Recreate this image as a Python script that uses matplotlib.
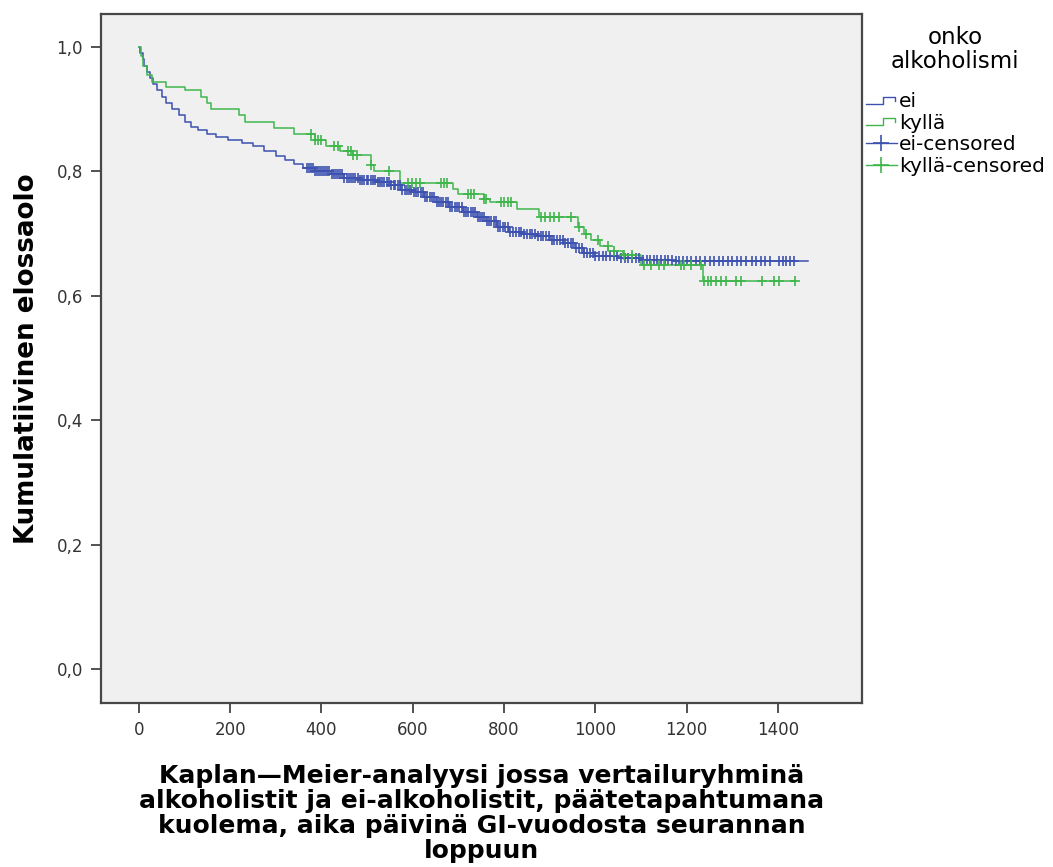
import numpy as np
import matplotlib
matplotlib.use('Agg')
import matplotlib.pyplot as plt
from matplotlib.lines import Line2D
from matplotlib.legend_handler import HandlerBase

# Kaplan-Meier step values (time in days, survival after the step)
ei_times = [0, 3, 8, 12, 18, 25, 32, 40, 50, 60, 72, 88, 100, 115, 130, 150, 170, 195,
            225, 250, 275, 300, 320, 340, 360, 385, 420, 450, 480, 520, 550, 575, 600,
            625, 650, 680, 710, 740, 760, 785, 810, 840, 870, 900, 930, 955, 975, 1000,
            1050, 1100, 1170]
ei_surv = [1.0, 0.99, 0.98, 0.97, 0.96, 0.95, 0.94, 0.93, 0.92, 0.91, 0.90, 0.89, 0.88,
           0.872, 0.866, 0.86, 0.855, 0.85, 0.845, 0.84, 0.832, 0.825, 0.818, 0.812,
           0.806, 0.80, 0.795, 0.79, 0.786, 0.783, 0.778, 0.77, 0.766, 0.758, 0.75,
           0.742, 0.735, 0.727, 0.72, 0.71, 0.703, 0.699, 0.696, 0.69, 0.684, 0.676,
           0.668, 0.664, 0.661, 0.658, 0.656]
ei_end = 1465

kylla_times = [0, 5, 10, 18, 28, 60, 100, 135, 150, 158, 220, 232, 295, 340, 385, 410,
               440, 470, 508, 515, 572, 688, 700, 755, 770, 828, 876, 962, 975, 990,
               1010, 1028, 1060, 1100, 1235]
kylla_surv = [1.0, 0.985, 0.97, 0.955, 0.944, 0.936, 0.93, 0.92, 0.91, 0.90, 0.89, 0.88,
              0.87, 0.86, 0.85, 0.84, 0.832, 0.826, 0.81, 0.80, 0.782, 0.772, 0.763,
              0.755, 0.75, 0.74, 0.727, 0.711, 0.70, 0.69, 0.68, 0.672, 0.665, 0.65,
              0.623]
kylla_end = 1440

# censored observations
ei_cens = [368, 372, 376, 381, 386, 390, 394, 399, 403, 408, 413, 417, 422, 427, 431,
           436, 441, 446, 450, 455, 460, 465, 470, 474, 479, 484, 489, 494, 499, 503,
           508, 513, 518, 523, 528, 533, 538, 543, 548, 553, 558, 562, 567, 572, 577,
           582, 587, 592, 597, 602, 607, 612, 617, 622, 627, 632, 637, 642, 647, 652,
           657, 662, 667, 672, 677, 682, 687, 692, 697, 702, 707, 712, 717, 722, 727,
           732, 737, 742, 747, 752, 757, 762, 767, 772, 777, 782, 787, 792, 797, 802,
           808, 814, 820, 826, 832, 838, 844, 850, 856, 862, 868, 874, 880, 886, 892,
           898, 904, 910, 916, 922, 928, 934, 940, 946, 952, 958, 964, 970, 976, 982,
           988, 994, 1000, 1008, 1016, 1024, 1032, 1040, 1048, 1056, 1064, 1072, 1080,
           1088, 1096, 1104, 1112, 1120, 1128, 1136, 1144, 1152, 1160, 1168, 1176, 1184,
           1192, 1200, 1210, 1220, 1230, 1240, 1250, 1260, 1270, 1280, 1290, 1300, 1310,
           1320, 1330, 1342, 1352, 1362, 1372, 1382, 1402, 1410, 1418, 1426, 1436]
kylla_cens = [377, 385, 392, 399, 427, 436, 458, 464, 470, 477, 508, 547, 590, 598, 606,
              615, 661, 668, 675, 720, 728, 735, 756, 760, 793, 800, 808, 815, 880, 890,
              900, 910, 920, 946, 965, 980, 1005, 1027, 1040, 1062, 1080, 1107, 1122,
              1140, 1150, 1187, 1195, 1210, 1232, 1238, 1247, 1253, 1265, 1275, 1287,
              1309, 1320, 1364, 1392, 1403, 1437]

blue = '#3d52b0'
green = '#3fb64c'

x_ticks = [0, 200, 400, 600, 800, 1000, 1200, 1400]
y_ticks = [0.0, 0.2, 0.4, 0.6, 0.8, 1.0]
y_tick_labels = ['0,0', '0,2', '0,4', '0,6', '0,8', '1,0']


def surv_at(times, surv, t):
    i = np.searchsorted(times, t, side='right') - 1
    return np.asarray(surv)[i]


class HandlerStep(HandlerBase):
    def create_artists(self, legend, orig_handle, xdescent, ydescent, width, height,
                       fontsize, trans):
        x0 = -xdescent
        y0 = -ydescent
        xs = [x0, x0 + width * 0.55, x0 + width * 0.55, x0 + width * 0.95, x0 + width * 0.95]
        ys = [y0 + height * 0.25, y0 + height * 0.25, y0 + height * 0.75,
              y0 + height * 0.75, y0 + height * 0.45]
        ln = Line2D(xs, ys, color=orig_handle.get_color(), lw=1.0, transform=trans)
        return [ln]


fig = plt.figure(figsize=(10.53, 8.67), dpi=100)
ax = fig.add_axes([0.0959, 0.1892, 0.7227, 0.7947])
ax.set_facecolor('#f0f0f0')

ax.step(ei_times + [ei_end], ei_surv + [ei_surv[-1]], where='post', color=blue, lw=1.1)
ax.step(kylla_times + [kylla_end], kylla_surv + [kylla_surv[-1]], where='post',
        color=green, lw=1.1)

ax.plot(ei_cens, [surv_at(ei_times, ei_surv, t) for t in ei_cens], ls='none',
        marker='+', ms=7.5, mew=1.2, color=blue)
ax.plot(kylla_cens, [surv_at(kylla_times, kylla_surv, t) for t in kylla_cens], ls='none',
        marker='+', ms=7.5, mew=1.2, color=green)

ax.set_xlim(-83, 1584)
ax.set_ylim(-0.0547, 1.053)
ax.set_xticks(x_ticks)
ax.set_yticks(y_ticks)
ax.set_yticklabels(y_tick_labels)
ax.tick_params(axis='both', direction='out', length=7, width=1.2, color='#333333',
               labelsize=12, labelcolor='#333333', pad=6)
ax.tick_params(top=False, right=False)
for s in ax.spines.values():
    s.set_color('#474747')
    s.set_linewidth(1.6)

ax.set_ylabel('Kumulatiivinen elossaolo', fontsize=18.8, fontweight='bold', labelpad=12)
ax.set_xlabel('Kaplan\u2014Meier-analyysi jossa vertailuryhminä\n'
              'alkoholistit ja ei-alkoholistit, päätetapahtumana\n'
              'kuolema, aika päivinä GI-vuodosta seurannan\n'
              'loppuun',
              fontsize=18, fontweight='bold', linespacing=1.05, labelpad=18)

handles = [Line2D([], [], color=blue), Line2D([], [], color=green),
           Line2D([], [], color=blue, marker='+', ms=11, mew=1.2, lw=1.0),
           Line2D([], [], color=green, marker='+', ms=11, mew=1.2, lw=1.0)]
labels = ['ei', 'kyllä', 'ei-censored', 'kyllä-censored']
leg = fig.legend(handles, labels, loc='upper left', bbox_to_anchor=(0.822, 0.970),
                 frameon=False, title='onko\nalkoholismi', fontsize=14.5,
                 title_fontsize=16.5, handlelength=1.55, handletextpad=0.1,
                 labelspacing=0.12, borderpad=0, borderaxespad=0,
                 handler_map={handles[0]: HandlerStep(), handles[1]: HandlerStep()})
leg.get_title().set_multialignment('center')
leg.get_title().set_linespacing(1.05)
leg._legend_box.align = 'center'
leg._legend_box.sep = 14

fig.savefig('out.png', dpi=100)
